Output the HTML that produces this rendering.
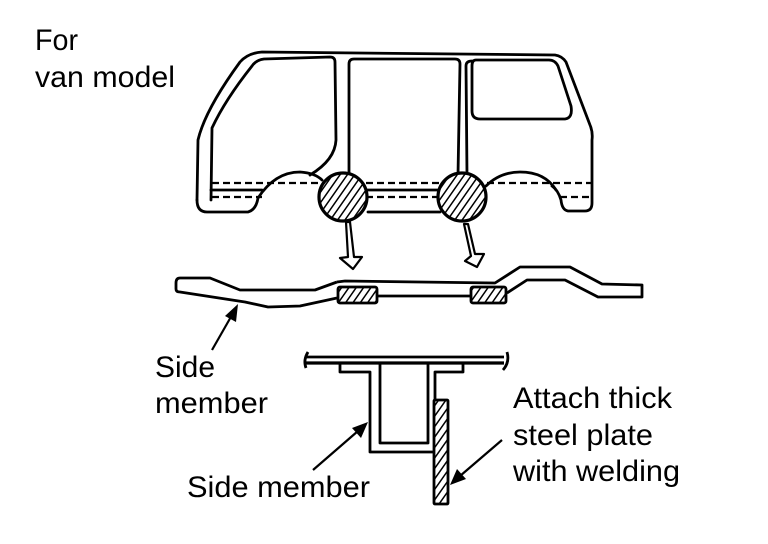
<!DOCTYPE html>
<html><head><meta charset="utf-8"><style>
html,body{margin:0;padding:0;background:#fff}
svg{display:block}
text{font-family:"Liberation Sans",Arial,sans-serif;fill:#000}
</style></head><body>
<svg width="768" height="544" viewBox="0 0 768 544" xmlns="http://www.w3.org/2000/svg">
<defs>
<pattern id="h" patternUnits="userSpaceOnUse" width="6" height="6" patternTransform="rotate(35)">
<rect width="6" height="6" fill="#fff"/><line x1="0" y1="0" x2="0" y2="6" stroke="#000" stroke-width="3"/>
</pattern>
</defs>
<g fill="none" stroke="#000" stroke-width="2.8" stroke-linejoin="round" stroke-linecap="round">
<path d="M197,200 L198,140 Q205,110 240,62 Q248,53 262,52 L555,55 Q562,56 566,62 L590,125 Q593,132 592,140 L592,203 Q592,211 585,211 L568,211 Q562,210 561,200 Q558,190 552,186"/>
<path d="M197,200 Q197,212 207,212 L248,212 Q256,210 258,198"/>
<path d="M258,198 Q275,172 300,172 Q315,173 322,180"/>
<path d="M486,186 Q500,172 520,172 Q545,172 556,190"/>
<line x1="368" y1="212" x2="440" y2="212"/>
<path d="M211,200 L212,128 Q225,100 252,66 Q256,60 264,59 L330,57 Q335,57 335,62 L336,140 Q335,160 310,175"/>
<path d="M349,178 L349,64 Q349,59 354,59 L455,59 Q460,59 460,64 L458,175"/>
<path d="M467,175 L466,66 Q466,61 472,61 L472,61"/>
<path d="M476,60 L549,60 Q555,60 558,66 L571,106 Q573,118 565,119 L480,119 Q472,119 472,111 L472,66 Q472,60 476,60"/>
<line x1="211" y1="190" x2="262" y2="190"/>
<line x1="366" y1="190" x2="440" y2="190"/>
</g>
<g fill="none" stroke="#000" stroke-width="2.2" stroke-dasharray="7,4">
<line x1="212" y1="183" x2="592" y2="183"/>
<line x1="212" y1="197" x2="262" y2="197"/>
<line x1="366" y1="197" x2="440" y2="197"/>
<line x1="560" y1="197" x2="592" y2="197"/>
</g>
<circle cx="343" cy="197" r="24" fill="url(#h)" stroke="#000" stroke-width="3.2"/>
<circle cx="462" cy="197" r="24" fill="url(#h)" stroke="#000" stroke-width="3.2"/>
<g fill="#fff" stroke="#000" stroke-width="2.2" stroke-linejoin="round">
<path d="M346,222 L350,222 L354,257 L362,257 L353,269 L340,258 L348,257 Z"/>
<path d="M464,224 L468,224 L475,254 L484,254 L477,267 L465,261 L471,256 Z"/>
</g>
<g fill="none" stroke="#000" stroke-width="2.8" stroke-linejoin="round">
<path d="M337,282 L315,290 L240,290 L210,278 L180,278 Q176,278 176,283 L176,289 Q176,292 180,292 L245,302 L268,307 L300,306 L337,298"/>
<path d="M337,282 L345,281 L495,283 L520,267 L570,267 L602,284 L642,285 L642,297 L598,297 L565,280 L527,280 L507,293"/>
<line x1="377" y1="296" x2="471" y2="296"/>
</g>
<rect x="338" y="287" width="39" height="16" rx="2" fill="url(#h)" stroke="#000" stroke-width="2.8"/>
<rect x="471" y="287" width="35" height="16" rx="2" fill="url(#h)" stroke="#000" stroke-width="2.8"/>
<line x1="212" y1="350" x2="232" y2="315" stroke="#000" stroke-width="2.2"/>
<polygon points="238,304 236,322 225,316" fill="#000"/>
<g fill="none" stroke="#000" stroke-width="2.8" stroke-linejoin="round">
<line x1="306" y1="357" x2="504" y2="357"/>
<line x1="306" y1="363" x2="504" y2="363" stroke-width="3.2"/>
<path d="M308,352 Q303,360 306,368"/>
<path d="M507,352 Q510,362 503,370"/>
<path d="M340,363 L340,372 L370,372 L370,452 L433,452"/>
<path d="M380,363 L380,443 L428,443 L428,363"/>
<path d="M435,400 L435,372 L463,372 L463,363"/>
</g>
<rect x="434" y="400" width="14" height="104" rx="1" fill="url(#h)" stroke="#000" stroke-width="2.8"/>
<line x1="313" y1="470" x2="358" y2="431" stroke="#000" stroke-width="2.2"/>
<polygon points="368,422 361,438 352,428" fill="#000"/>
<line x1="502" y1="440" x2="460" y2="476" stroke="#000" stroke-width="2.2"/>
<polygon points="450,485 457,469 466,479" fill="#000"/>
<text x="35" y="50" font-size="30" textLength="43" lengthAdjust="spacingAndGlyphs">For</text>
<text x="35" y="87" font-size="30" textLength="140" lengthAdjust="spacingAndGlyphs">van model</text>
<text x="155" y="377" font-size="30" textLength="60" lengthAdjust="spacingAndGlyphs">Side</text>
<text x="155" y="413" font-size="30" textLength="113" lengthAdjust="spacingAndGlyphs">member</text>
<text x="187" y="497" font-size="30" textLength="183" lengthAdjust="spacingAndGlyphs">Side member</text>
<text x="513" y="408" font-size="30" textLength="159" lengthAdjust="spacingAndGlyphs">Attach thick</text>
<text x="513" y="445" font-size="30" textLength="140" lengthAdjust="spacingAndGlyphs">steel plate</text>
<text x="513" y="481" font-size="30" textLength="167" lengthAdjust="spacingAndGlyphs">with welding</text>
</svg>
</body></html>
